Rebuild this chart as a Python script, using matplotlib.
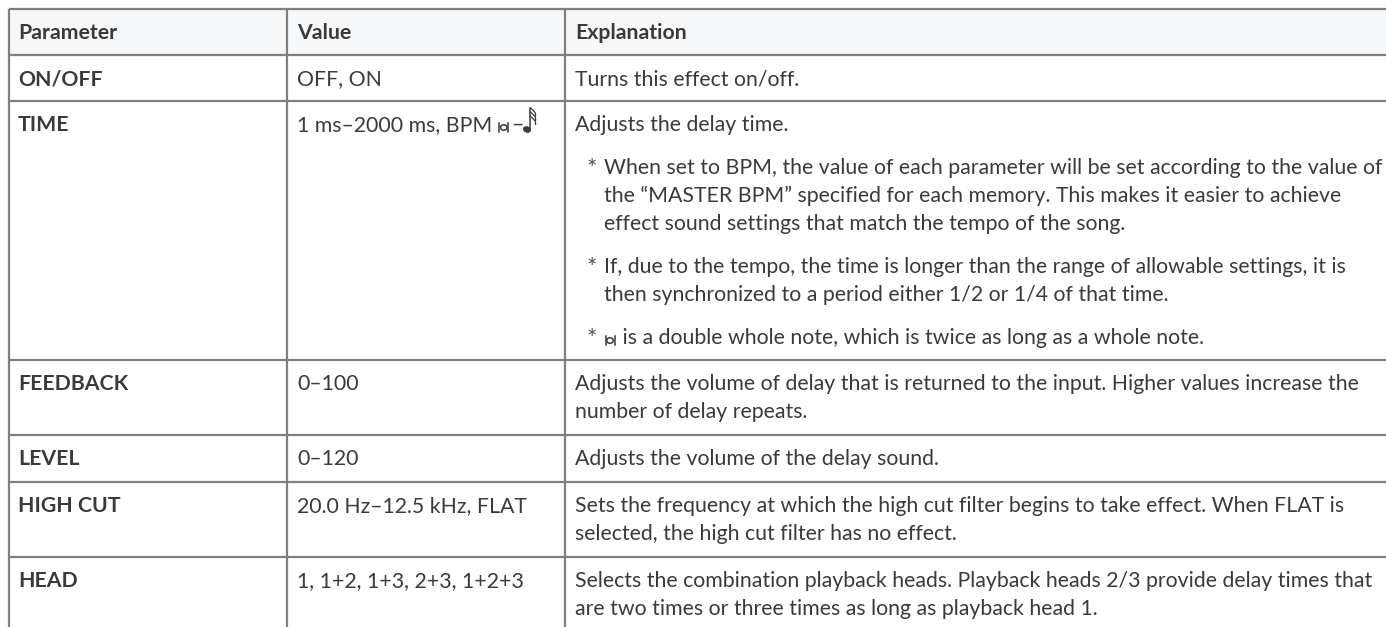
import matplotlib
matplotlib.use('Agg')
import matplotlib.pyplot as plt
from matplotlib import font_manager
from matplotlib.patches import Ellipse

BREVE = '\U0001D15C'      # double whole note
NOTE32 = '\U0001D162'     # thirty-second note

# table content
headers = ['Parameter', 'Value', 'Explanation']
params = ['ON/OFF', 'TIME', 'FEEDBACK', 'LEVEL', 'HIGH CUT', 'HEAD']
values = ['OFF, ON',
          '1 ms\u20132000 ms, BPM ' + BREVE + '\u2013' + NOTE32,
          '0\u2013100',
          '0\u2013120',
          '20.0 Hz\u201312.5 kHz, FLAT',
          '1, 1+2, 1+3, 2+3, 1+2+3']
# each explanation: list of paragraphs -> (is_note, [lines])
explanations = [
    [(False, ['Turns this effect on/off.'])],
    [(False, ['Adjusts the delay time.']),
     (True, ['When set to BPM, the value of each parameter will be set according to the value of',
             'the \u201cMASTER BPM\u201d specified for each memory. This makes it easier to achieve',
             'effect sound settings that match the tempo of the song.']),
     (True, ['If, due to the tempo, the time is longer than the range of allowable settings, it is',
             'then synchronized to a period either 1/2 or 1/4 of that time.']),
     (True, [BREVE + ' is a double whole note, which is twice as long as a whole note.'])],
    [(False, ['Adjusts the volume of delay that is returned to the input. Higher values increase the',
              'number of delay repeats.'])],
    [(False, ['Adjusts the volume of the delay sound.'])],
    [(False, ['Sets the frequency at which the high cut filter begins to take effect. When FLAT is',
              'selected, the high cut filter has no effect.'])],
    [(False, ['Selects the combination playback heads. Playback heads 2/3 provide delay times that',
              'are two times or three times as long as playback head 1.'])],
]

# layout (pixels)
W, H = 1386, 627
row_edges = [9, 55, 101, 360, 435, 482, 557, 640]
col_edges = [9, 287, 565]
text_x = [18, 297, 575]
star_x, note_x = 587, 604
first_off = 23
line_h = 28
para_gap = 15
border = '#7f7f7f'
ink = '#3a3a3a'
head_bg = '#f6f7f9'

installed = {f.name for f in font_manager.fontManager.ttflist}
main_font = next(f for f in ['Lato', 'Open Sans', 'Noto Sans', 'DejaVu Sans'] if f in installed)
fam = [main_font, 'DejaVu Sans']

fig = plt.figure(figsize=(W / 100, H / 100), dpi=100)
ax = fig.add_axes([0, 0, 1, 1])
ax.set_xlim(0, W)
ax.set_ylim(H, 0)
ax.axis('off')
renderer = fig.canvas.get_renderer()


def text_width(s, **kw):
    t = ax.text(0, 0, s, **kw)
    w = t.get_window_extent(renderer).width
    t.remove()
    return w


# fit font size so the longest note line ends near the right edge
fs = 10 * 774 / text_width(explanations[1][1][1][0], fontsize=10, family=fam)


def draw_breve(x, y):
    # open note head with a bar on each side, sitting on the baseline
    ax.add_patch(Ellipse((x + 6, y - 3.5), 6.5, 5.5, fill=False, ec=ink, lw=1.1))
    for bx in (x + 1.5, x + 10.5):
        ax.plot([bx, bx], [y - 8, y + 1], color=ink, lw=1.1)
    return 13


def draw_note32(x, y):
    ax.add_patch(Ellipse((x + 4, y - 1.5), 7.5, 5.5, angle=20, fc=ink, ec=ink, lw=0.5))
    sx = x + 7.4
    ax.plot([sx, sx], [y - 2, y - 23], color=ink, lw=1.1)
    for k in range(3):
        fy = y - 23 + k * 4.2
        ax.plot([sx, sx + 2.5, sx + 5, sx + 5.2], [fy, fy + 2, fy + 5, fy + 8], color=ink, lw=0.9)
    return 13


def draw_rich(x, y, s, **kw):
    # plain text with note symbols drawn as shapes
    seg = ''
    for ch in s + '\0':
        if ch in (BREVE, NOTE32, '\0'):
            if seg:
                ax.text(x, y, seg, va='baseline', **kw)
                x += text_width(seg, **kw)
                seg = ''
            if ch == BREVE:
                x += draw_breve(x, y)
            elif ch == NOTE32:
                x += draw_note32(x, y)
        else:
            seg += ch


# header background
ax.fill_between([col_edges[0], W + 5], row_edges[0], row_edges[1], color=head_bg, lw=0, zorder=0)

# grid lines
for y in row_edges[:-1]:
    ax.plot([col_edges[0], W + 5], [y, y], color=border, lw=1.6, solid_capstyle='butt')
for x in col_edges:
    ax.plot([x, x], [row_edges[0], H + 5], color=border, lw=1.6, solid_capstyle='butt')

base = 7  # baseline below visual center
txt = dict(fontsize=fs, color=ink, family=fam)

for i, h in enumerate(headers):
    ax.text(text_x[i], (row_edges[0] + row_edges[1]) / 2 + base, h, fontweight='bold',
            va='baseline', **txt)

for r, (p, v, ex) in enumerate(zip(params, values, explanations)):
    top = row_edges[r + 1]
    y0 = top + first_off + base
    ax.text(text_x[0], y0, p, fontweight='bold', va='baseline', **txt)
    draw_rich(text_x[1], y0, v, **txt)
    y = y0
    for k, (is_note, lines) in enumerate(ex):
        if k > 0:
            y += line_h + para_gap
        if is_note:
            ax.text(star_x, y + 1, '*', fontsize=fs * 1.15, color='#555555', family=fam,
                    va='baseline')
        for j, line in enumerate(lines):
            if j > 0:
                y += line_h
            draw_rich(note_x if is_note else text_x[2], y, line, **txt)

fig.savefig('out.png', dpi=100, facecolor='white')
